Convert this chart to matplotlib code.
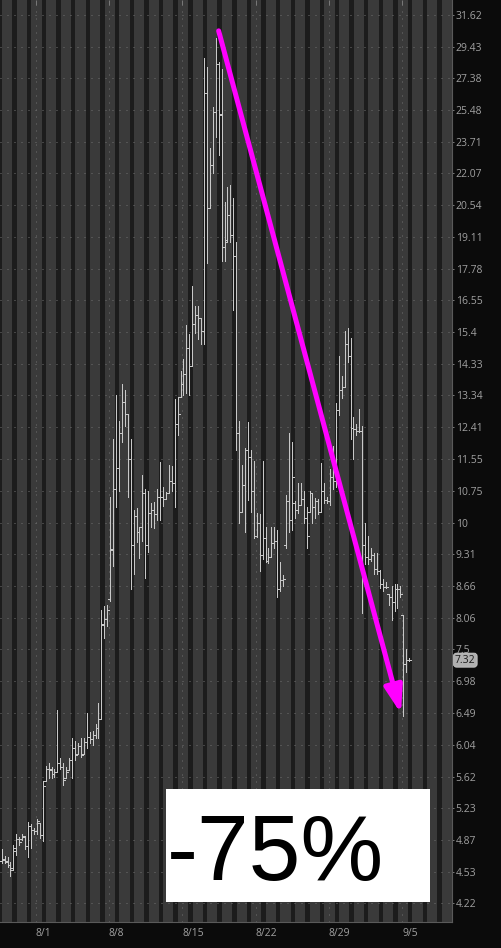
import matplotlib
matplotlib.use('Agg')
import matplotlib.pyplot as plt
from matplotlib.patches import FancyArrowPatch, Rectangle
from matplotlib.ticker import NullLocator
import numpy as np

plt.rcParams['font.family'] = ['Open Sans', 'DejaVu Sans']

# intraday OHLC bars, 5 per session
opens = [4.64, 4.66, 4.63, 4.60, 4.57, 4.75, 4.88, 4.88, 4.90, 4.80,
         5.02, 4.98, 4.97, 5.06, 4.92, 5.57, 5.72, 5.70, 5.66, 5.68,
         5.80, 5.74, 5.60, 5.70, 5.84, 6.00, 5.92, 6.02, 5.92, 6.08,
         6.15, 6.12, 6.18, 6.28, 6.40, 7.95, 8.04, 8.40, 9.40, 10.80,
         11.33, 12.26, 13.15, 12.80, 11.55, 9.50, 10.15, 9.78, 9.90, 10.70,
         9.50, 10.22, 10.30, 10.20, 10.60, 10.60, 10.55, 10.70, 10.98, 10.93,
         12.50, 13.30, 13.70, 14.00, 14.87, 14.27, 15.68, 16.00, 15.90, 15.45,
         26.50, 20.40, 22.50, 25.40, 28.30, 25.20, 18.70, 19.00, 20.10, 19.20,
         18.30, 12.25, 10.25, 10.90, 11.80, 11.60, 10.75, 9.70, 10.00, 9.30,
         9.65, 9.17, 9.25, 9.55, 9.60, 8.60, 8.77, 9.50, 10.50, 10.05,
         10.45, 10.30, 10.40, 10.55, 10.10, 10.25, 10.70, 10.35, 10.50, 10.25,
         10.75, 10.53, 10.50, 11.10, 11.00, 12.90, 13.50, 13.60, 15.00, 14.60,
         12.40, 12.35, 12.30, 12.30, 9.50, 9.25, 9.20, 9.30, 9.00, 8.95,
         8.70, 8.65, 8.50, 8.45, 8.35, 8.60, 8.60, 8.10, 7.25, 7.33]
highs = [4.77, 4.69, 4.68, 4.63, 4.81, 4.94, 4.90, 4.94, 4.91, 5.07,
         5.05, 5.00, 5.10, 5.06, 5.56, 5.76, 5.80, 5.74, 5.72, 6.53,
         5.86, 5.80, 5.74, 5.86, 6.14, 6.10, 6.07, 6.14, 6.14, 6.49,
         6.22, 6.24, 6.34, 6.64, 8.20, 8.28, 8.30, 10.60, 12.10, 13.34,
         12.60, 13.70, 13.50, 12.80, 12.10, 10.30, 10.33, 9.90, 11.15, 10.80,
         10.75, 10.45, 10.48, 10.80, 11.47, 10.83, 10.72, 11.40, 11.36, 13.23,
         13.30, 14.10, 14.50, 15.65, 15.35, 17.10, 16.35, 16.35, 15.90, 28.70,
         28.10, 23.40, 25.65, 30.00, 28.40, 28.00, 20.70, 21.40, 21.50, 20.90,
         18.90, 12.60, 11.40, 11.85, 12.55, 11.78, 11.50, 10.22, 10.20, 11.50,
         9.90, 9.43, 9.90, 9.90, 9.83, 9.15, 8.88, 10.65, 12.25, 12.00,
         10.50, 10.95, 10.95, 10.75, 10.35, 10.75, 10.70, 10.58, 10.55, 11.45,
         10.95, 10.60, 11.30, 11.90, 13.10, 14.60, 13.95, 15.45, 15.55, 15.20,
         12.70, 12.50, 12.95, 12.45, 10.00, 9.70, 9.45, 9.33, 9.33, 8.98,
         8.80, 8.73, 8.50, 8.66, 8.70, 8.70, 8.66, 8.10, 7.50, 7.35]
lows = [4.62, 4.62, 4.58, 4.49, 4.56, 4.70, 4.81, 4.87, 4.77, 4.68,
        4.78, 4.94, 4.94, 4.89, 4.86, 5.57, 5.60, 5.60, 5.62, 5.68,
        5.72, 5.51, 5.60, 5.70, 5.60, 5.84, 5.92, 5.88, 5.92, 6.00,
        6.07, 6.04, 6.14, 6.14, 6.40, 7.69, 7.91, 8.37, 9.07, 10.35,
        10.75, 12.00, 12.45, 10.60, 8.60, 8.90, 9.57, 9.22, 9.60, 8.82,
        9.35, 9.90, 9.87, 10.05, 10.05, 10.38, 10.55, 10.70, 10.75, 10.37,
        12.20, 13.30, 13.34, 13.43, 13.34, 14.27, 15.37, 15.15, 15.00, 15.00,
        18.00, 20.40, 22.07, 24.00, 23.00, 18.10, 18.10, 18.90, 18.90, 16.20,
        11.80, 10.00, 10.25, 9.78, 10.52, 10.25, 9.65, 9.67, 8.95, 9.20,
        9.15, 9.13, 9.25, 9.45, 8.45, 8.56, 8.66, 9.43, 9.78, 9.83,
        10.10, 10.22, 10.40, 9.98, 9.43, 10.25, 10.00, 10.10, 10.20, 10.25,
        10.45, 10.45, 10.40, 10.80, 10.85, 12.75, 13.27, 13.60, 14.40, 12.10,
        11.55, 12.20, 12.28, 8.15, 9.10, 9.10, 9.17, 8.90, 8.90, 8.62,
        8.57, 8.62, 8.30, 8.02, 8.18, 8.23, 8.45, 6.45, 7.12, 7.30]
closes = [4.65, 4.64, 4.60, 4.55, 4.78, 4.88, 4.85, 4.91, 4.80, 5.02,
          4.98, 4.97, 5.08, 4.92, 5.50, 5.72, 5.72, 5.66, 5.68, 5.80,
          5.74, 5.58, 5.68, 5.84, 6.00, 5.90, 6.02, 5.90, 6.08, 6.15,
          6.12, 6.18, 6.28, 6.40, 7.93, 8.04, 8.20, 9.42, 10.80, 11.33,
          12.26, 13.15, 12.80, 11.55, 9.50, 10.15, 9.78, 9.90, 10.70, 9.50,
          10.22, 10.30, 10.20, 10.60, 10.60, 10.55, 10.70, 10.98, 10.93, 12.50,
          12.80, 13.70, 14.00, 14.87, 14.27, 15.68, 16.00, 15.90, 15.45, 26.50,
          20.40, 22.50, 25.37, 28.30, 25.25, 18.70, 18.90, 20.10, 19.20, 18.30,
          12.25, 10.25, 10.90, 11.80, 11.60, 10.75, 9.70, 10.00, 9.30, 9.65,
          9.17, 9.25, 9.55, 9.60, 8.60, 8.77, 8.80, 10.50, 10.05, 11.10,
          10.30, 10.40, 10.55, 10.10, 9.70, 10.70, 10.35, 10.50, 10.25, 10.75,
          10.53, 10.50, 11.10, 11.00, 12.90, 13.50, 13.60, 15.00, 14.60, 12.40,
          12.35, 12.30, 12.30, 9.50, 9.25, 9.20, 9.30, 9.00, 8.95, 8.70,
          8.65, 8.65, 8.45, 8.35, 8.60, 8.60, 8.50, 7.25, 7.32, 7.32]

price_ticks = [31.62, 29.43, 27.38, 25.48, 23.71, 22.07, 20.54, 19.11, 17.78,
               16.55, 15.4, 14.33, 13.34, 12.41, 11.55, 10.75, 10, 9.31, 8.66,
               8.06, 7.5, 6.98, 6.49, 6.04, 5.62, 5.23, 4.87, 4.53, 4.22]
date_labels = ['8/1', '8/8', '8/15', '8/22', '8/29', '9/5']
change_label = '-75%'
arrow_start = (74, 30.5)
arrow_end = (136.4, 6.45)

W, H = 502, 948
fig = plt.figure(figsize=(W / 100, H / 100), dpi=100, facecolor='#0b0b0b')
ax = fig.add_axes([0, 1 - 922 / H, 452 / W, 922 / H])
ax.set_facecolor('#3a3a3a')
ax.set_yscale('log')
ax.set_xlim(-0.58, 153.6)
ax.set_ylim(4.042, 32.71)

bars_per_day = 5
x = np.arange(len(closes))

# session shading
for d in range(-1, 31):
    s = 3.6 + bars_per_day * d
    ax.axvspan(s, s + 1.5, color='#1c1c1c', lw=0, zorder=0)

# dotted grid
for v in price_ticks:
    ax.axhline(v, color='#6e6e6e', lw=0.72, ls=(0, (1, 6)), zorder=1)
date_pos = 11.6 + 5 * bars_per_day * np.arange(len(date_labels))
for p in date_pos:
    ax.axvline(p, color='#6e6e6e', lw=0.72, ls=(0, (1, 6)), zorder=1)

# OHLC bars
bar_color = '#c8c8c8'
ax.vlines(x, lows, highs, color=bar_color, lw=0.72, antialiased=False, zorder=3)
ax.hlines(opens, x - 0.7, x, color=bar_color, lw=0.72, antialiased=False, zorder=3)
ax.hlines(closes, x, x + 0.7, color=bar_color, lw=0.72, antialiased=False, zorder=3)

arrow = FancyArrowPatch(arrow_start, arrow_end,
                        arrowstyle='-|>,head_length=1.62,head_width=0.54',
                        mutation_scale=10, color='#ff00ff', lw=3.6,
                        capstyle='round', shrinkA=0, shrinkB=1.8, zorder=5)
ax.add_patch(arrow)

# axes styling
for s in ['left', 'top']:
    ax.spines[s].set_visible(False)
for s in ['right', 'bottom']:
    ax.spines[s].set_color('#5a5a5a')
    ax.spines[s].set_linewidth(0.8)

ax.yaxis.tick_right()
ax.set_yticks(price_ticks)
ax.set_yticklabels([f'{v:g}' for v in price_ticks])
ax.yaxis.set_minor_locator(NullLocator())
ax.tick_params(axis='y', length=1.5, width=0.72, color='#777777', pad=1.2,
               labelsize=7.5, labelcolor='#a0a0a0')
ax.set_xticks(date_pos)
ax.set_xticklabels(date_labels, ha='left')
ax.xaxis.set_minor_locator(NullLocator())
ax.tick_params(axis='x', bottom=False, top=True, direction='in', length=3.6,
               width=0.72, color='#777777', pad=4, labelsize=7.5,
               labelcolor='#a0a0a0', labelbottom=True)

# last price tag
ax.text(1.0066, closes[-1], f'{closes[-1]:.2f}', transform=ax.get_yaxis_transform(),
        fontsize=7.5, color='#1a1a1a', ha='left', va='center', clip_on=False, zorder=6,
        bbox=dict(boxstyle='round,pad=0.15,rounding_size=0.3', fc='#b0b0b0',
                  ec='#cfcfcf', lw=0.5))

# annotation box
fig.add_artist(Rectangle((166 / W, 1 - 902 / H), (430 - 166) / W, (902 - 789) / H,
                         transform=fig.transFigure, facecolor='white',
                         edgecolor='none', zorder=6))
fig.text(167 / W, 1 - 880 / H, change_label, fontsize=67, family='Liberation Sans',
         color='black', ha='left', va='baseline', zorder=7)

fig.savefig('out.png', dpi=100, facecolor=fig.get_facecolor())
